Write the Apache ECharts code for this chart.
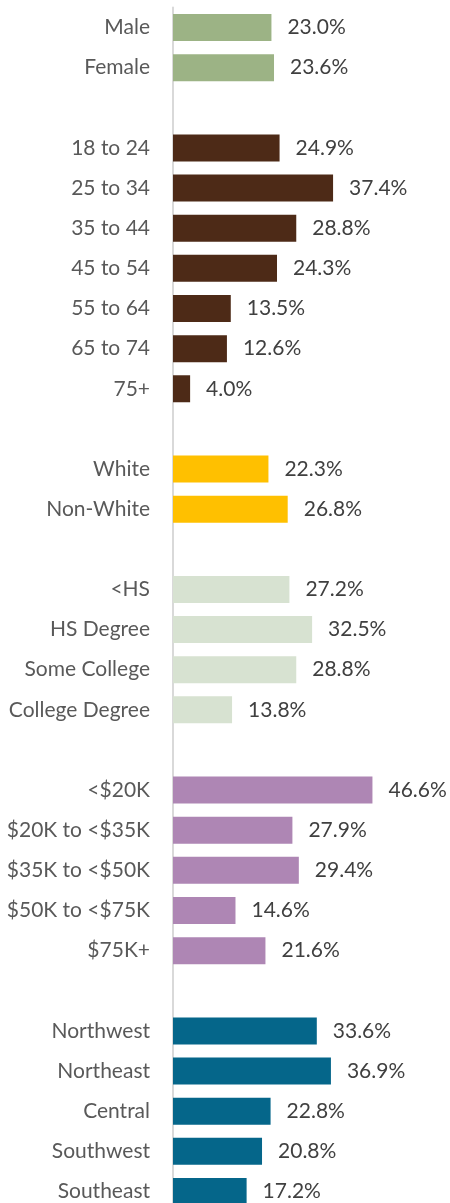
<!DOCTYPE html>
<html>
<head>
<meta charset="utf-8">
<script src="https://cdn.jsdelivr.net/npm/echarts@6/dist/echarts.min.js"></script>
<style>html,body{margin:0;padding:0;background:#fff;width:450px;height:1203px;overflow:hidden;}#c{width:450px;height:1212px;}</style>
</head>
<body>
<div id="c"></div>
<script>
const genderCats = ['Male', 'Female'];
const genderVals = [23.0, 23.6];
const ageCats = ['18 to 24', '25 to 34', '35 to 44', '45 to 54', '55 to 64', '65 to 74', '75+'];
const ageVals = [24.9, 37.4, 28.8, 24.3, 13.5, 12.6, 4.0];
const raceCats = ['White', 'Non-White'];
const raceVals = [22.3, 26.8];
const eduCats = ['<HS', 'HS Degree', 'Some College', 'College Degree'];
const eduVals = [27.2, 32.5, 28.8, 13.8];
const incomeCats = ['<$20K', '$20K to <$35K', '$35K to <$50K', '$50K to <$75K', '$75K+'];
const incomeVals = [46.6, 27.9, 29.4, 14.6, 21.6];
const regionCats = ['Northwest', 'Northeast', 'Central', 'Southwest', 'Southeast'];
const regionVals = [33.6, 36.9, 22.8, 20.8, 17.2];

const groups = [
  [genderCats, genderVals, '#9CB385'],
  [ageCats, ageVals, '#4D2A17'],
  [raceCats, raceVals, '#FFC000'],
  [eduCats, eduVals, '#D7E2D1'],
  [incomeCats, incomeVals, '#AE86B4'],
  [regionCats, regionVals, '#05668A']
];
const categories = [];
const data = [];
groups.forEach((g, gi) => {
  if (gi > 0) { categories.push(' '.repeat(gi)); data.push(null); }
  g[0].forEach((c, i) => {
    categories.push(c);
    data.push({ value: g[1][i], itemStyle: { color: g[2] } });
  });
});

const chart = echarts.init(document.getElementById('c'));
chart.setOption({
  animation: false,
  grid: { left: 173, top: 7.5, width: 214, height: 1204, containLabel: false },
  xAxis: { type: 'value', min: 0, max: 50, show: false, splitLine: { show: false } },
  yAxis: {
    type: 'category', data: categories, inverse: true,
    axisLine: { show: true, lineStyle: { color: '#D9D9D9', width: 2 } },
    axisTick: { show: false },
    axisLabel: { margin: 23, color: '#595959', fontSize: 21, fontFamily: 'Lato' }
  },
  series: [{
    type: 'bar', data: data, barWidth: 27,
    label: {
      show: true, position: 'right', distance: 16,
      color: '#404040', fontSize: 21, fontFamily: 'Lato',
      formatter: p => p.value == null ? '' : p.value.toFixed(1) + '%'
    }
  }]
});
</script>
</body>
</html>
